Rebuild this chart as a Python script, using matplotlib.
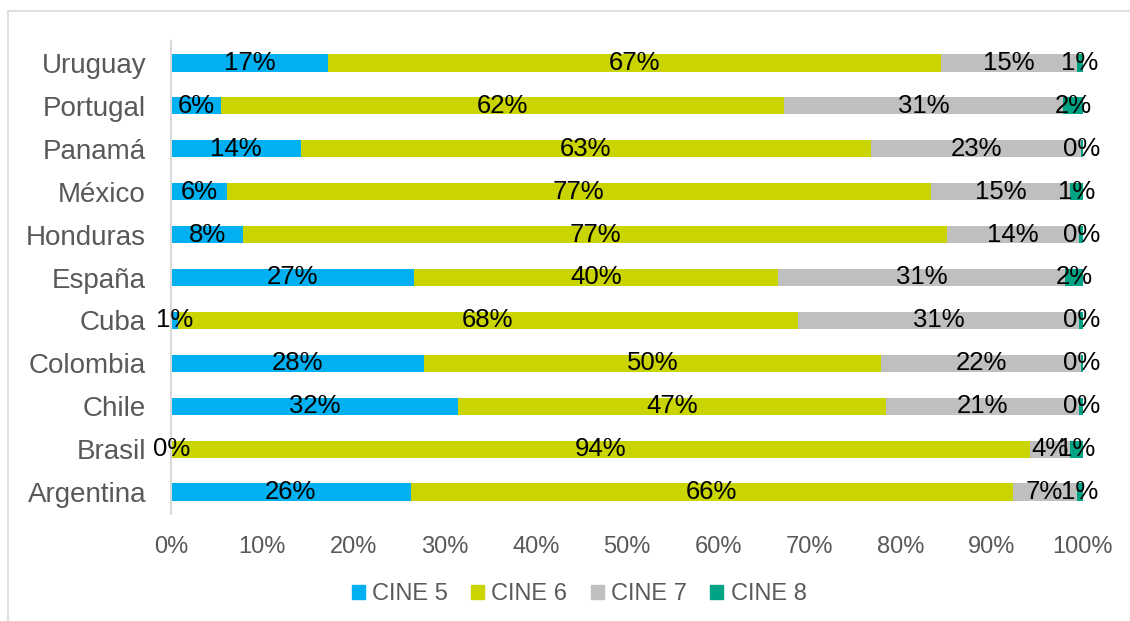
import matplotlib
matplotlib.use("Agg")
import matplotlib.pyplot as plt
from matplotlib.patches import Rectangle, Patch
import numpy as np

plt.rcParams['font.family'] = ['Liberation Sans', 'DejaVu Sans']

countries = ["Argentina", "Brasil", "Chile", "Colombia", "Cuba", "España",
             "Honduras", "México", "Panamá", "Portugal", "Uruguay"]
series_names = ["CINE 5", "CINE 6", "CINE 7", "CINE 8"]
cine5 = [26.3, 0.1, 31.5, 27.7, 0.8, 26.6, 7.9, 6.1, 14.2, 5.5, 17.2]
cine6 = [66.0, 94.1, 46.9, 50.2, 67.9, 40.0, 77.2, 77.2, 62.6, 61.7, 67.2]
cine7 = [7.0, 4.4, 21.2, 21.9, 30.9, 31.4, 14.5, 15.3, 23.0, 30.6, 14.9]
cine8 = [0.7, 1.4, 0.4, 0.2, 0.4, 2.0, 0.4, 1.4, 0.2, 2.2, 0.7]
colors = ["#00B0F0", "#C9D400", "#BFBFBF", "#00A383"]

fig = plt.figure(figsize=(11.3, 6.21), dpi=100)
fig.patches.append(Rectangle((8/1130, -0.1), 1.2, 1 - 11/621 + 0.1,
                             transform=fig.transFigure, fill=False,
                             edgecolor="#D9D9D9", linewidth=1.2))
ax = fig.add_axes([171/1130, 1 - 513.5/621, 912/1130, 472/621])

y = np.arange(len(countries))
left = np.zeros(len(countries))
for vals, col, name in zip([cine5, cine6, cine7, cine8], colors, series_names):
    vals = np.array(vals)
    ax.barh(y, vals, left=left, height=0.4, color=col, label=name)
    for yi, l, v in zip(y, left, vals):
        ax.text(l + v / 2, yi, f"{int(round(v))}%", ha="center", va="center",
                fontsize=18.5, color="black")
    left = left + vals

ax.set_xlim(0, 100)
ax.set_ylim(-0.5, len(countries) - 0.5)
ax.set_yticks(y)
ax.set_yticklabels(countries, fontsize=20, color="#595959")
ax.set_xticks(np.arange(0, 101, 10))
ax.set_xticklabels([f"{t}%" for t in range(0, 101, 10)], fontsize=17, color="#595959")
ax.tick_params(axis="both", length=0)
ax.tick_params(axis="y", pad=18)
ax.tick_params(axis="x", pad=16)
for s in ["top", "right", "bottom"]:
    ax.spines[s].set_visible(False)
ax.spines["left"].set_color("#D9D9D9")
ax.spines["left"].set_linewidth(1.5)

handles = [Patch(color=c, label=n) for c, n in zip(colors, series_names)]
fig.legend(handles=handles, loc="center", bbox_to_anchor=(579/1130, 1 - 594/621),
           ncol=4, frameon=False, fontsize=17, labelcolor="#595959",
           handlelength=0.55, handleheight=0.55, handletextpad=0.3, columnspacing=1.0)

fig.savefig("out.png", dpi=100)
